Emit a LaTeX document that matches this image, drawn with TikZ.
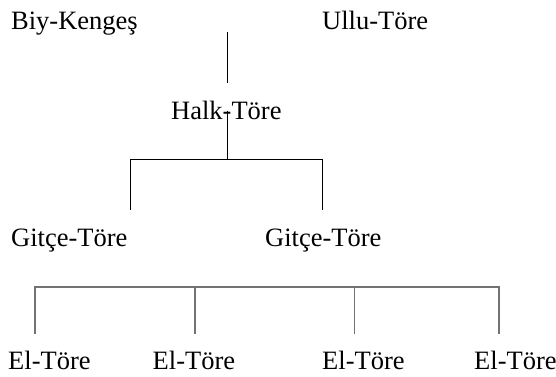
\documentclass[tikz,border=0pt]{standalone}
\usepackage{fontspec}
\setmainfont{Liberation Serif}
\begin{document}
\begin{tikzpicture}[x=1pt,y=-1pt,
  lbl/.style={anchor=base west,inner sep=0pt,font=\fontsize{26.5}{30}\selectfont},
  blk/.style={draw=black,line width=0.9pt},
  gry/.style={draw=black!55,line width=1.3pt}]
\useasboundingbox (0,0) rectangle (556,376);
% labels
\node[lbl] (biy)  at (11,29) {Biy-Kengeş};
\node[lbl] (ullu) at (322,29) {Ullu-Töre};
\node[lbl] (halk) at (171,119) {Halk-Töre};
\node[lbl] (g1) at (11,246) {Gitçe-Töre};
\node[lbl] (g2) at (265,246) {Gitçe-Töre};
\node[lbl] (e1) at (8,369) {El-Töre};
\node[lbl] (e2) at (152.5,369) {El-Töre};
\node[lbl] (e3) at (322,369) {El-Töre};
\node[lbl] (e4) at (474,369) {El-Töre};
% joints
\coordinate (t1) at (227,32);
\coordinate (t2) at (227,83);
\coordinate (h1) at (227,111);
\coordinate (h2) at (227,159.5);
\coordinate (gl) at (130.5,159.5);
\coordinate (gr) at (322.7,159.5);
\coordinate (gle) at (130.5,210);
\coordinate (gre) at (322.7,210);
\coordinate (b1) at (35,287);
\coordinate (b2) at (195,287);
\coordinate (b3) at (354.6,287);
\coordinate (b4) at (499,287);
\coordinate (b1e) at (35,334);
\coordinate (b2e) at (195,334);
\coordinate (b3e) at (354.6,334);
\coordinate (b4e) at (499,334);
% connectors
\draw[blk] (t1) -- (t2);
\draw[blk] (h1) -- (h2);
\draw[blk] (gle) -- (gl) -- (gr) -- (gre);
\draw[gry] (b1e) -- (b1) -- (b4) -- (b4e);
\draw[gry] (b2) -- (b2e);
\draw[gry] (b3) -- (b3e);
\end{tikzpicture}
\end{document}
